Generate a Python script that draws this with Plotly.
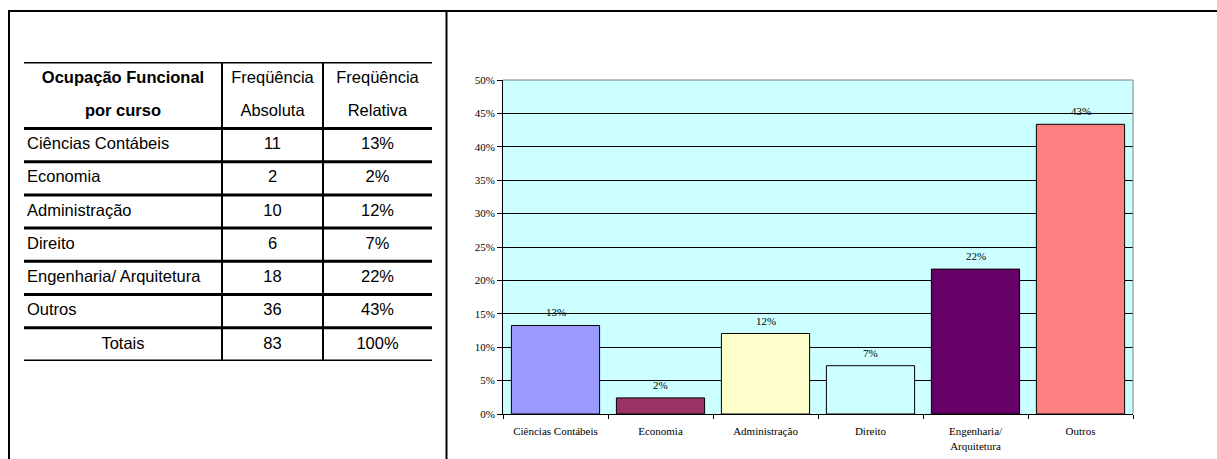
import plotly.graph_objects as go

# ---------------- data ----------------
categories = ["Ciências Contábeis", "Economia", "Administração", "Direito",
              "Engenharia/ Arquitetura", "Outros"]
axis_labels = ["Ciências Contábeis", "Economia", "Administração", "Direito",
               "Engenharia/<br>Arquitetura", "Outros"]
abs_freq = [11, 2, 10, 6, 18, 36]
rel_freq = [0.1325, 0.0241, 0.1205, 0.0723, 0.2169, 0.4337]
total_abs = 83
total_rel = 1.00
bar_colors = ["#9999FF", "#993366", "#FFFFCC", "#CCFFFF", "#660066", "#FF8080"]
header_line1 = ["<b>Ocupação Funcional</b>", "Freqüência", "Freqüência"]
header_line2 = ["<b>por curso</b>", "Absoluta", "Relativa"]
y_ticks = [0, 0.05, 0.10, 0.15, 0.20, 0.25, 0.30, 0.35, 0.40, 0.45, 0.50]

# ---------------- layout constants ----------------
W, H = 1217, 459
SERIF = "Liberation Serif, Times New Roman, serif"
NARROW = "Liberation Sans Narrow, Arial Narrow, Liberation Sans, Arial, sans-serif"
TSIZE = 16.5
col_edges = [0, 198, 299, 408]  # table column boundaries (table units = px)
header_rows = 2

fig = go.Figure()

# ---------------- bar chart ----------------
fig.add_trace(go.Bar(
    x=axis_labels, y=rel_freq,
    marker=dict(color=bar_colors, line=dict(color="black", width=1)),
    width=0.84, xaxis="x", yaxis="y", showlegend=False, hoverinfo="skip",
))
for lab, v in zip(axis_labels, rel_freq):
    fig.add_annotation(x=lab, y=v, xref="x", yref="y", text=f"{v:.0%}",
                       showarrow=False, yanchor="bottom", yshift=5,
                       font=dict(family=SERIF, size=11, color="black"))

# ---------------- table (on its own hidden axes) ----------------
n_rows = len(categories)
cx = [(col_edges[i] + col_edges[i + 1]) / 2 for i in range(3)]
tfont = dict(family=NARROW, size=TSIZE, color="black")


def add_text(xs, ys, texts, pos):
    fig.add_trace(go.Scatter(
        x=xs, y=ys, text=texts, mode="text", textposition=pos,
        xaxis="x2", yaxis="y2", textfont=tfont, cliponaxis=False,
        showlegend=False, hoverinfo="skip"))


add_text(cx, [0.5] * 3, header_line1, "middle center")
add_text(cx, [1.5] * 3, header_line2, "middle center")
row_y = [header_rows + i + 0.5 for i in range(n_rows)]
add_text([col_edges[0] + 3] * n_rows, row_y, categories, "middle right")
add_text([cx[1]] * n_rows, row_y, [str(a) for a in abs_freq], "middle center")
add_text([cx[2]] * n_rows, row_y, [f"{v:.0%}" for v in rel_freq], "middle center")
tot_y = header_rows + n_rows + 0.5
add_text(cx, [tot_y] * 3, ["Totais", str(total_abs), f"{total_rel:.0%}"],
         "middle center")

n_units = header_rows + n_rows + 1
shapes = []
# horizontal table rules
for yy in [0, header_rows] + [header_rows + i + 1 for i in range(n_rows + 1)]:
    shapes.append(dict(type="line", xref="x2", yref="y2", x0=col_edges[0],
                       x1=col_edges[-1], y0=yy, y1=yy,
                       line=dict(color="black", width=3)))
# vertical table rules
for xx in col_edges[1:-1]:
    shapes.append(dict(type="line", xref="x2", yref="y2", x0=xx, x1=xx,
                       y0=0, y1=n_units, line=dict(color="black", width=2)))

# chart background and grey frame (top/right)
shapes.append(dict(type="rect", xref="x domain", yref="y domain", x0=0, x1=1,
                   y0=0, y1=1, fillcolor="#CCFFFF", line=dict(width=0),
                   layer="below"))
shapes.append(dict(type="line", xref="x domain", yref="y domain", x0=0, x1=1,
                   y0=1, y1=1, line=dict(color="#808080", width=1)))
shapes.append(dict(type="line", xref="x domain", yref="y domain", x0=1, x1=1,
                   y0=0, y1=1, line=dict(color="#808080", width=1)))

# outer page frame
shapes.append(dict(type="line", xref="paper", yref="paper", x0=8 / W, x1=1,
                   y0=1 - 11 / H, y1=1 - 11 / H, line=dict(color="black", width=2)))
shapes.append(dict(type="line", xref="paper", yref="paper", x0=9 / W, x1=9 / W,
                   y0=0, y1=1 - 10 / H, line=dict(color="black", width=2)))
shapes.append(dict(type="line", xref="paper", yref="paper", x0=446.5 / W,
                   x1=446.5 / W, y0=0, y1=1 - 10 / H,
                   line=dict(color="black", width=2)))

fig.update_layout(
    template="none",
    width=W, height=H, autosize=False,
    margin=dict(l=0, r=0, t=0, b=0, pad=0),
    paper_bgcolor="white", plot_bgcolor="rgba(0,0,0,0)",
    bargap=0.16,
    shapes=shapes,
    xaxis=dict(domain=[503 / W, 1133 / W], type="category", automargin=False,
               showline=True, linecolor="black", linewidth=1,
               ticks="outside", ticklen=4, tickcolor="black", tickson="boundaries",
               ticklabelstandoff=7,
               tickfont=dict(family=SERIF, size=11, color="black"),
               showgrid=False, zeroline=False, fixedrange=True),
    yaxis=dict(domain=[1 - 414 / H, 1 - 80 / H], range=[0, 0.5], automargin=False,
               tickvals=y_ticks, tickformat=".0%",
               showline=True, linecolor="black", linewidth=1,
               ticks="outside", ticklen=5, tickcolor="black",
               tickfont=dict(family=SERIF, size=11, color="black"),
               showgrid=True, gridcolor="black", gridwidth=1,
               zeroline=False, fixedrange=True),
    xaxis2=dict(domain=[24 / W, 432 / W], range=[col_edges[0], col_edges[-1]],
                visible=False, anchor="y2", fixedrange=True, automargin=False),
    yaxis2=dict(domain=[1 - 361 / H, 1 - 62 / H], range=[n_units, 0],
                visible=False, anchor="x2", fixedrange=True, automargin=False),
)

fig.write_html("out.html")
